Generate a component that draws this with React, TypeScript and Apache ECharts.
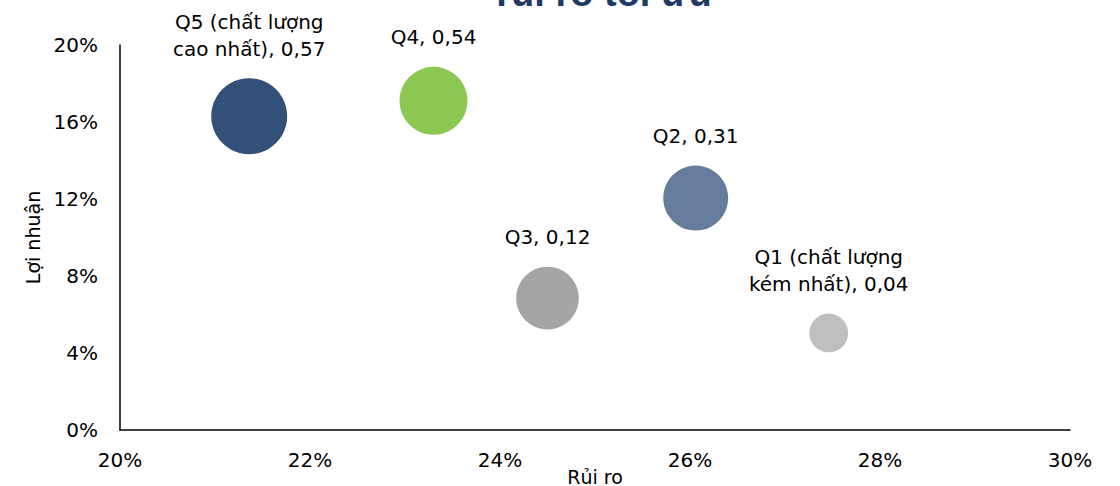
import React, { useEffect, useRef } from "react";
import * as echarts from "echarts";

const names = ["Q5 (chất lượng\ncao nhất), 0,57", "Q4, 0,54", "Q3, 0,12", "Q2, 0,31", "Q1 (chất lượng\nkém nhất), 0,04"];
const risk = [21.36, 23.3, 24.5, 26.06, 27.46];
const ret = [16.3, 17.1, 6.85, 12.05, 5.04];
const bubbleWeight = [1.0, 0.8, 0.68, 0.73, 0.26];
const colors = ["#335078", "#8CC751", "#A5A5A5", "#667C9C", "#BFBFBF"];

export default function App() {
  const ref = useRef<HTMLDivElement>(null);
  useEffect(() => {
    const chart = echarts.init(ref.current!, null, { renderer: "svg" });
    const font = "'DejaVu Sans', 'Liberation Sans', sans-serif";
    const titleFont = "'Liberation Sans', Arial, sans-serif";
    chart.setOption({
      animation: false,
      textStyle: { fontFamily: font },
      graphic: [
        {
          type: "text",
          x: 604,
          y: 12,
          style: {
            text: "rủi ro tối ưu",
            fontFamily: titleFont,
            fontSize: 38,
            fontWeight: "bold",
            fill: "#1F3864",
            align: "center",
            verticalAlign: "bottom",
          },
        },
      ],
      grid: { left: 120, right: 50, top: 45, bottom: 56, outerBoundsMode: "none", containLabel: false },
      xAxis: {
        type: "value",
        min: 20,
        max: 30,
        interval: 2,
        name: "Rủi ro",
        nameLocation: "middle",
        nameGap: 37,
        nameMoveOverlap: false,
        nameTextStyle: { fontSize: 19, color: "#000", fontFamily: font, verticalAlign: "top" },
        axisLine: { show: true, lineStyle: { color: "#000", width: 1.5 } },
        axisTick: { show: false },
        splitLine: { show: false },
        axisLabel: { formatter: "{value}%", fontSize: 20, color: "#000", margin: 20, fontFamily: font },
      },
      yAxis: {
        type: "value",
        min: 0,
        max: 20,
        interval: 4,
        name: "Lợi nhuận",
        nameLocation: "middle",
        nameGap: 78,
        nameMoveOverlap: false,
        nameTextStyle: { fontSize: 19, color: "#000", fontFamily: font },
        axisLine: { show: true, lineStyle: { color: "#000", width: 1.5 } },
        axisTick: { show: false },
        splitLine: { show: false },
        axisLabel: { formatter: "{value}%", fontSize: 20, color: "#000", margin: 22, fontFamily: font },
      },
      series: [
        {
          type: "scatter",
          data: risk.map((x, i) => ({
            value: [x, ret[i], bubbleWeight[i]],
            name: names[i],
            itemStyle: { color: colors[i], opacity: 1 },
          })),
          symbolSize: (v: number[]) => 76 * Math.sqrt(v[2]),
          label: {
            show: true,
            position: "top",
            distance: 16,
            formatter: (p: any) => p.name,
            fontSize: 20,
            lineHeight: 27,
            color: "#000",
            fontFamily: font,
            align: "center",
          },
        },
      ],
    });
    return () => chart.dispose();
  }, []);
  return <div ref={ref} style={{ width: 1120, height: 486, position: "absolute", left: 0, top: 0 }} />;
}
